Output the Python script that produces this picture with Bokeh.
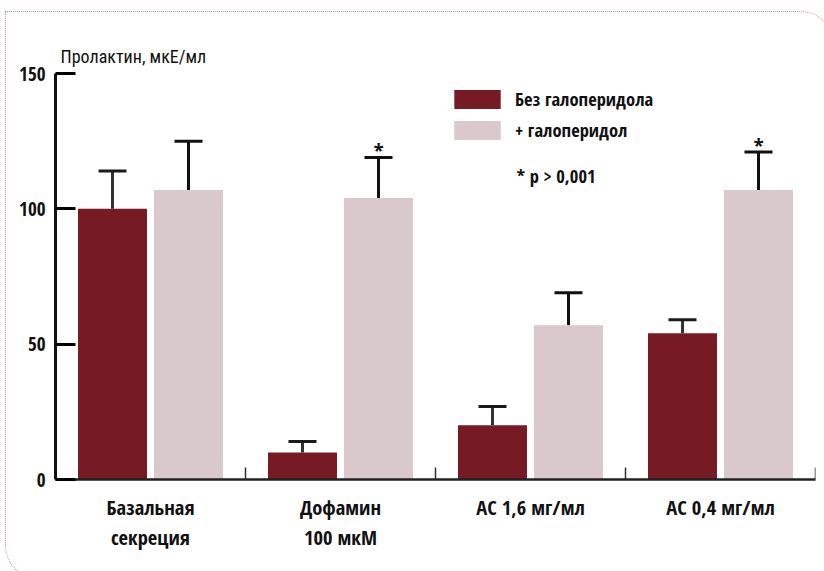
from math import pi
from bokeh.plotting import figure
from bokeh.models import (ColumnDataSource, FactorRange, Range1d, Whisker, TeeHead, FixedTicker,
                          Legend, LegendItem, Label, InlineStyleSheet)
from bokeh.transform import dodge
from bokeh.core.properties import value
from bokeh.embed import file_html
from bokeh.resources import INLINE

# ---- data ----
categories = ["Базальная\nсекреция", "Дофамин\n100 мкМ", "АС 1,6 мг/мл", "АС 0,4 мг/мл"]
without_hal = [100, 10, 20, 54]
without_hal_err = [114, 14, 27, 59]
with_hal = [107, 104, 57, 107]
with_hal_err = [125, 119, 69, 121]
significant = [False, True, False, True]
y_ticks = [0, 50, 100, 150]
series_names = ["Без галоперидола", "+ галоперидол"]
title_text = "Пролактин, мкЕ/мл"
note_text = "* p > 0,001"

FONT = "Open Sans Condensed"
TITLE_FONT = "Roboto Condensed"
DARK = "#761a24"
PINK = "#d9c8cc"

p = figure(x_range=FactorRange(*categories, range_padding=0), y_range=Range1d(0, 150),
           width=824, height=571, min_border_left=55, min_border_right=9,
           min_border_top=73, min_border_bottom=92,
           output_backend="svg", toolbar_location=None)
p.outline_line_color = None
p.xgrid.grid_line_color = None
p.ygrid.grid_line_color = None
p.background_fill_color = "white"
p.border_fill_color = "white"

src = ColumnDataSource(dict(cat=categories, dark=without_hal, dark_err=without_hal_err,
                            pink=with_hal, pink_err=with_hal_err))

r1 = p.vbar(x=dodge("cat", -0.2, range=p.x_range), top="dark", width=0.363, source=src,
            fill_color=DARK, line_color=None)
r2 = p.vbar(x=dodge("cat", 0.2, range=p.x_range), top="pink", width=0.363, source=src,
            fill_color=PINK, line_color=None)

w1 = Whisker(source=src, base=dodge("cat", -0.2, range=p.x_range), lower="dark", upper="dark_err",
             line_width=3, line_color="#333333",
             upper_head=TeeHead(size=28, line_width=3, line_color="#1a1a1a"), lower_head=None)
w2 = Whisker(source=src, base=dodge("cat", 0.2, range=p.x_range), lower="pink", upper="pink_err",
             line_width=3, line_color="#111111",
             upper_head=TeeHead(size=28, line_width=3, line_color="#111111"), lower_head=None)
p.add_layout(w1)
p.add_layout(w2)

sig_src = ColumnDataSource(dict(
    cat=[c for c, s in zip(categories, significant) if s],
    err=[e for e, s in zip(with_hal_err, significant) if s],
    mark=["*" for s in significant if s]))
p.text(x=dodge("cat", 0.2, range=p.x_range), y="err", text="mark", source=sig_src,
       text_align="center", text_baseline="bottom", y_offset=8,
       text_font=value(FONT), text_font_size="22px", text_font_style="bold",
       text_color="#111111")

# small ticks at the category boundaries
p.ray(x=dodge("cat", 0.5, range=p.x_range), y=0, length=12, length_units="screen",
      angle=pi / 2, source=src, line_color="#333333", line_width=1.5)

p.yaxis.ticker = FixedTicker(ticks=y_ticks)
p.yaxis.major_tick_in = 20
p.yaxis.major_tick_out = 0
p.yaxis.minor_tick_line_color = None
p.yaxis.axis_line_width = 3
p.yaxis.major_tick_line_width = 3
p.yaxis.axis_line_color = "#111111"
p.yaxis.major_label_standoff = 10
p.yaxis.major_label_text_font = FONT
p.yaxis.major_label_text_font_size = "19px"
p.yaxis.major_label_text_font_style = "bold"
p.yaxis.major_label_text_color = "#111111"

p.xaxis.major_tick_line_color = None
p.xaxis.axis_line_width = 2.5
p.xaxis.axis_line_color = "#222222"
p.xaxis.major_label_standoff = 7
p.xaxis.major_label_text_font = FONT
p.xaxis.major_label_text_font_size = "20.5px"
p.xaxis.major_label_text_font_style = "bold"
p.xaxis.major_label_text_color = "#111111"
p.xaxis.major_label_text_line_height = 1.1

p.title.text = title_text
p.title.align = "left"
p.title.offset = 5
p.title.standoff = 14
p.title.text_font = TITLE_FONT
p.title.text_font_size = "18px"
p.title.text_font_style = "normal"
p.title.text_color = "#111111"

legend = Legend(items=[LegendItem(label=series_names[0], renderers=[r1]),
                       LegendItem(label=series_names[1], renderers=[r2])],
                location=(393, 337), orientation="vertical",
                glyph_width=58, glyph_height=24, spacing=6, padding=0, margin=0,
                label_standoff=9, border_line_color=None, background_fill_alpha=0,
                label_text_font=FONT, label_text_font_size="18.5px",
                label_text_font_style="bold", label_text_color="#111111")
p.add_layout(legend)

p.add_layout(Label(x=461, y=304, x_units="screen", y_units="screen", text=note_text,
                   text_baseline="middle", text_font=FONT, text_font_size="18.5px",
                   text_font_style="bold", text_color="#111111"))

# decorative dotted frame with rounded corners (right and bottom edges fall outside the view)
p.stylesheets = [InlineStyleSheet(css="""
:host { position: relative; overflow: hidden; }
:host::after {
  content: ""; position: absolute; left: 5px; top: 11px; width: 830px; height: 569px;
  border: 1.5px dotted #c08c8c; border-radius: 0 35px 0 35px; pointer-events: none;
  box-sizing: border-box;
}
""")]

open("out.html", "w").write(file_html(p, INLINE))
